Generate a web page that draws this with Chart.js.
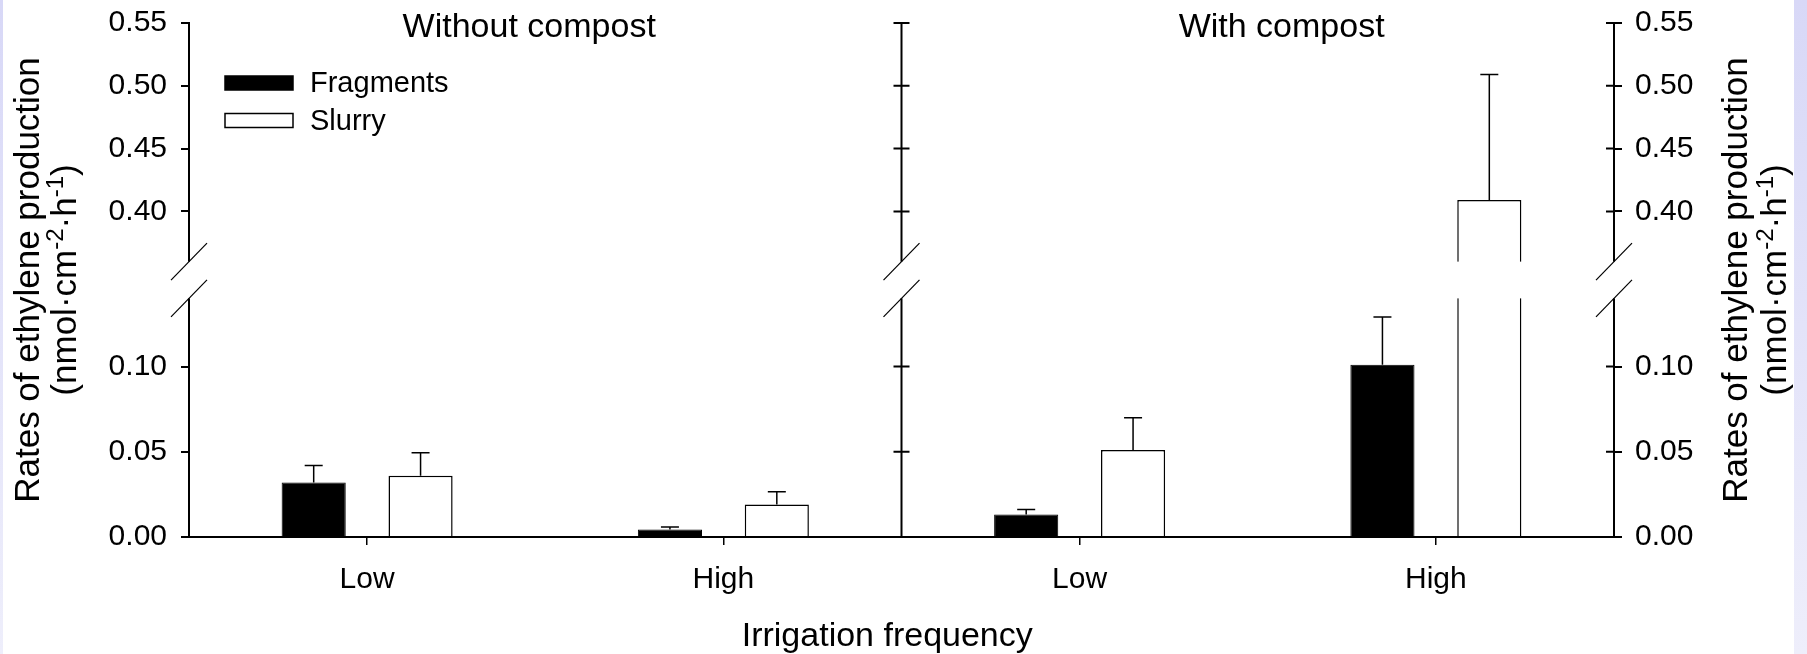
<!DOCTYPE html>
<html>
<head>
<meta charset="utf-8">
<script src="https://cdn.jsdelivr.net/npm/chart.js@4.4.1/dist/chart.umd.min.js"></script>
<style>
html, body { margin: 0; padding: 0; }
body { width: 1807px; height: 654px; overflow: hidden; position: relative;
       background: linear-gradient(#d8d8f7, #eeeefb); }
.frame { position: absolute; left: 3px; top: 0; width: 1791px; height: 654px; background: #fff; }
#myChart { position: absolute; left: 0; top: 0; }
</style>
</head>
<body>
<div class="frame"></div>
<canvas id="myChart" width="1807" height="654"></canvas>
<script>
const categories = ['Low', 'High', 'Low', 'High'];
const panels = ['Without compost', 'With compost'];
const fragments = [0.032, 0.0044, 0.0132, 0.101];
const fragmentsErr = [0.010, 0.0015, 0.003, 0.028];
const slurry = [0.036, 0.019, 0.051, 0.409];
const slurryErr = [0.0135, 0.0075, 0.019, 0.100];
const yTicks = [0, 0.05, 0.10, 0.40, 0.45, 0.50, 0.55];

const FONT = '"Liberation Sans", Arial, sans-serif';
Chart.defaults.font.family = FONT;
Chart.defaults.color = '#000';

// linear axis with a cut between brk.low and brk.high
class BrokenLinearScale extends Chart.LinearScale {
    static id = 'brokenLinear';
    static defaults = Chart.LinearScale.defaults;

    _toDecimal(v) {
        const b = this.options.brk;
        const seg = (1 - b.gap) / 2;
        if (v <= b.low) return (v - this.min) / (b.low - this.min) * seg;
        if (v >= b.high) return seg + b.gap + (v - b.high) / (this.max - b.high) * seg;
        return seg + (v - b.low) / (b.high - b.low) * b.gap;
    }
    getPixelForValue(value) {
        if (value === null || isNaN(value)) return NaN;
        return this.getPixelForDecimal(this._toDecimal(value));
    }
    getValueForPixel(pixel) {
        const b = this.options.brk;
        const seg = (1 - b.gap) / 2;
        const d = this.getDecimalForPixel(pixel);
        if (d <= seg) return this.min + d / seg * (b.low - this.min);
        if (d >= seg + b.gap) return b.high + (d - seg - b.gap) / seg * (this.max - b.high);
        return b.low + (d - seg) / b.gap * (b.high - b.low);
    }
}
Chart.register(BrokenLinearScale);

function yAxis(position, pad, width) {
    return {
        type: 'brokenLinear',
        position: position,
        min: 0,
        max: 0.55,
        brk: { low: 0.14, high: 0.36, gap: 0.0715 },
        afterBuildTicks: (s) => { s.ticks = yTicks.map(v => ({ value: v })); },
        afterFit: (s) => {
            s.width = width;
            s.paddingTop = 0;
            s.paddingBottom = 0;
        },
        ticks: { font: { size: 30 }, padding: pad, autoSkip: false, color: '#000',
                 callback: (v) => v.toFixed(2) },
        grid: { drawOnChartArea: false, drawTicks: true, tickLength: 8, color: '#000', lineWidth: 2 },
        border: { color: '#000', width: 2 }
    };
}

function richWidth(ctx, parts) {
    let w = 0;
    parts.forEach(p => {
        ctx.font = (p.sup ? 24 : 35) + 'px ' + FONT;
        w += ctx.measureText(p.t).width;
    });
    return w;
}

function drawRich(ctx, parts, x, y) {
    let cx = x - richWidth(ctx, parts) / 2;
    parts.forEach(p => {
        ctx.font = (p.sup ? 24 : 35) + 'px ' + FONT;
        ctx.fillText(p.t, cx, p.sup ? y - 13 : y);
        cx += ctx.measureText(p.t).width;
    });
}

const unitParts = [
    { t: '(nmol·cm' }, { t: '-2', sup: true }, { t: '·h' }, { t: '-1', sup: true }, { t: ')' }
];

const decorations = {
    id: 'decorations',
    afterDatasetsDraw(chart) {
        const ctx = chart.ctx;
        const area = chart.chartArea;
        const x = chart.scales.x;
        const y = chart.scales.y;
        const midX = x.getPixelForValue(1.5);

        ctx.save();
        ctx.strokeStyle = '#000';

        // middle axis, ticks on both sides
        ctx.lineWidth = 2;
        ctx.beginPath();
        ctx.moveTo(midX, area.top);
        ctx.lineTo(midX, area.bottom);
        yTicks.forEach(v => {
            const py = y.getPixelForValue(v);
            ctx.moveTo(midX - 8, py);
            ctx.lineTo(midX + 8, py);
            ctx.moveTo(area.right - 8, py);
            ctx.lineTo(area.right, py);
        });
        ctx.stroke();

        // cut through axes and bars
        const gTop = y.getPixelForValue(y.options.brk.high);
        const gBot = y.getPixelForValue(y.options.brk.low);
        ctx.fillStyle = '#fff';
        ctx.fillRect(area.left - 20, gTop, area.right - area.left + 40, gBot - gTop);

        // error bars (upper half only)
        ctx.lineWidth = 1.5;
        chart.data.datasets.forEach((ds, i) => {
            const meta = chart.getDatasetMeta(i);
            meta.data.forEach((bar, j) => {
                const top = y.getPixelForValue(ds.data[j] + ds.errors[j]);
                ctx.beginPath();
                ctx.moveTo(bar.x, bar.y);
                ctx.lineTo(bar.x, top);
                ctx.moveTo(bar.x - 9, top);
                ctx.lineTo(bar.x + 9, top);
                ctx.stroke();
            });
        });

        // break marks
        ctx.lineWidth = 1.2;
        [area.left, midX, area.right].forEach(ax => {
            [gTop, gBot].forEach(gy => {
                ctx.beginPath();
                ctx.moveTo(ax - 18, gy + 18.5);
                ctx.lineTo(ax + 18, gy - 18.5);
                ctx.stroke();
            });
        });

        // legend
        ctx.font = '29px ' + FONT;
        ctx.textAlign = 'left';
        ctx.textBaseline = 'alphabetic';
        chart.data.datasets.forEach((ds, i) => {
            const bx = area.left + 36;
            const by = 76 + i * 37.5;
            ctx.fillStyle = ds.backgroundColor;
            ctx.fillRect(bx, by, 68, 14);
            ctx.lineWidth = 1.5;
            ctx.strokeRect(bx, by, 68, 14);
            ctx.fillStyle = '#000';
            ctx.fillText(ds.label, bx + 85, by + 16);
        });

        // panel titles and x title
        ctx.font = '34px ' + FONT;
        ctx.textAlign = 'center';
        [0.455, 2.567].forEach((pos, i) => {
            ctx.fillText(panels[i], x.getPixelForValue(pos), 36.5);
        });
        ctx.fillText('Irrigation frequency', x.getPixelForValue(1.46), 646);

        // y titles, left and right
        const midY = (area.top + area.bottom) / 2;
        [[39, 76], [1747, 1786]].forEach(([x1, x2]) => {
            ctx.save();
            ctx.translate(x1, midY);
            ctx.rotate(-Math.PI / 2);
            ctx.font = '35px ' + FONT;
            ctx.textAlign = 'center';
            ctx.fillText('Rates of ethylene production', 0, 0);
            ctx.restore();

            ctx.save();
            ctx.translate(x2, midY);
            ctx.rotate(-Math.PI / 2);
            ctx.textAlign = 'left';
            drawRich(ctx, unitParts, 0, 0);
            ctx.restore();
        });

        ctx.restore();
    }
};

const ctx = document.getElementById('myChart').getContext('2d');
const myChart = new Chart(ctx, {
    type: 'bar',
    data: {
        labels: categories,
        datasets: [
            {
                label: 'Fragments',
                data: fragments,
                errors: fragmentsErr,
                backgroundColor: '#000',
                borderColor: '#000',
                borderWidth: 1
            },
            {
                label: 'Slurry',
                data: slurry,
                errors: slurryErr,
                backgroundColor: '#fff',
                borderColor: '#000',
                borderWidth: 1.5
            }
        ]
    },
    options: {
        responsive: false,
        animation: false,
        categoryPercentage: 0.6,
        barPercentage: 0.6,
        layout: { padding: { top: 23, left: 0, right: 0, bottom: 0 } },
        plugins: {
            legend: { display: false },
            tooltip: { enabled: false }
        },
        scales: {
            x: {
                offset: true,
                afterFit: (s) => {
                    s.height = 117;
                    s.paddingLeft = 0;
                    s.paddingRight = 0;
                },
                grid: { offset: false, drawOnChartArea: false, drawTicks: true, tickLength: 8,
                        color: '#000', lineWidth: 1.5 },
                border: { color: '#000', width: 2 },
                ticks: { font: { size: 30 }, padding: 17, color: '#000' }
            },
            y: yAxis('left', 14, 189),
            y2: yAxis('right', 13, 193)
        }
    },
    plugins: [decorations]
});
</script>
</body>
</html>
